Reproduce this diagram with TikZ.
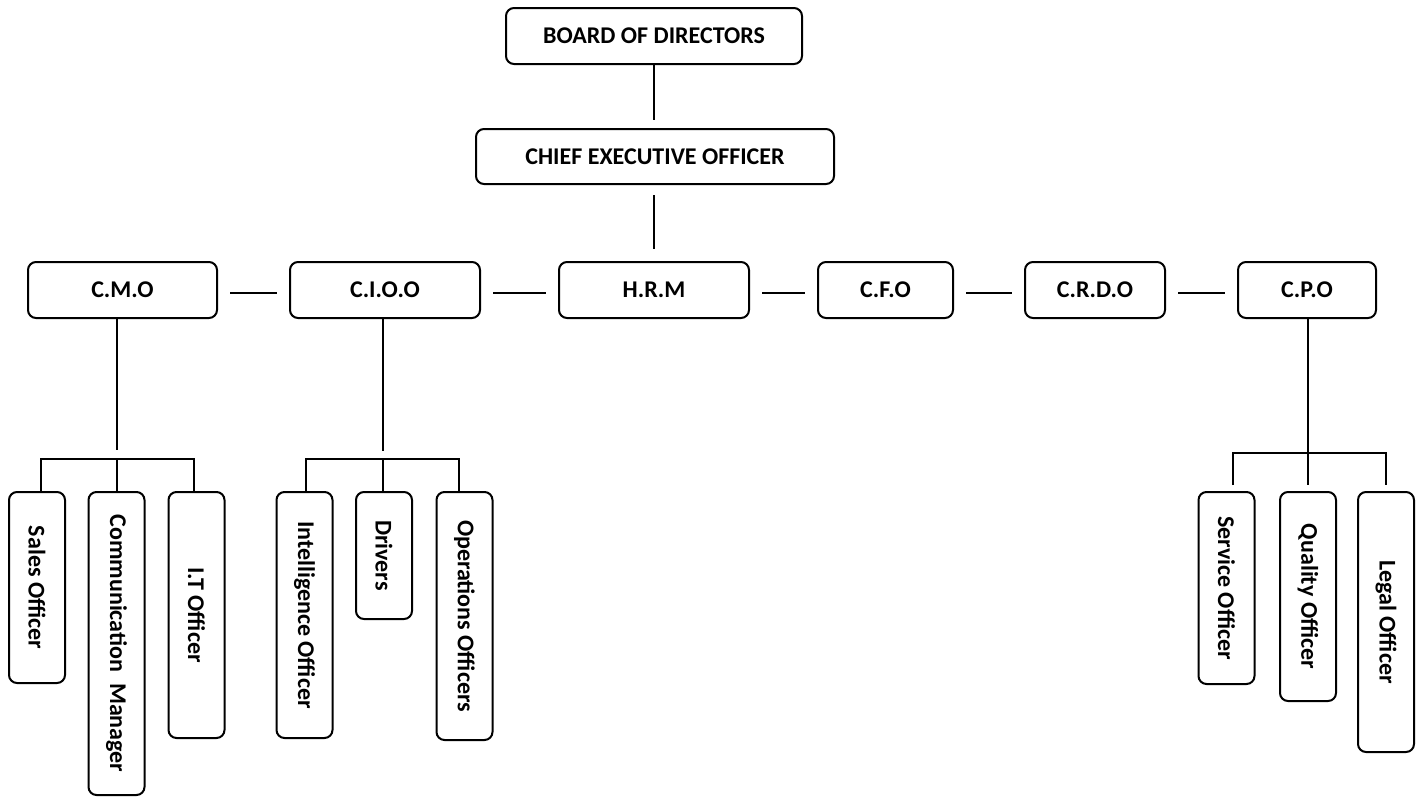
\documentclass[tikz,border=0pt]{standalone}
\usepackage{fontspec}
\setmainfont{Carlito}
\tikzset{
    post/.style={draw, line width=2pt, rounded corners=8pt, align=center, inner sep=2pt,
        font=\fontsize{24}{28}\selectfont\bfseries, minimum height=56pt},
    staff/.style={post, rotate=-90, minimum height=56pt, minimum width=#1},
    link/.style={line width=2pt},
}
\begin{document}
\begin{tikzpicture}[x=1pt, y=-1pt]
        \useasboundingbox (0, 0) rectangle (1421, 796);
        % top of the chart
        \node[post, minimum width=296pt] (bod) at (654, 36) {BOARD OF DIRECTORS};
        \node[post, minimum width=358pt, minimum height=55pt] (ceo) at (655, 156.5) {CHIEF EXECUTIVE OFFICER};
        \draw[link] (bod.south) -- ([yshift=8pt]ceo.north -| bod.south);
        % chiefs
        \node[post, minimum width=189pt] (cmo) at (122.5, 290) {C.M.O};
        \node[post, minimum width=190pt] (cioo) at (385, 290) {C.I.O.O};
        \node[post, minimum width=190pt] (hrm) at (654, 290) {H.R.M};
        \node[post, minimum width=135pt] (cfo) at (885.5, 290) {C.F.O};
        \node[post, minimum width=140pt] (crdo) at (1095, 290) {C.R.D.O};
        \node[post, minimum width=138pt] (cpo) at (1307, 290) {C.P.O};
        \draw[link] ([yshift=-10pt]ceo.south -| hrm.north) -- ([yshift=12pt]hrm.north);
        \foreach \a/\b in {cmo/cioo, cioo/hrm, hrm/cfo, cfo/crdo, crdo/cpo}
            \draw[link] ([xshift=12pt, yshift=-3pt]\a.east) -- ([xshift=-12pt, yshift=-3pt]\b.west);
        % staff under C.M.O
        \node[staff=191pt] (sales) at (37, 587.5) {Sales Officer};
        \node[staff=303pt] (comm) at (116.5, 643.5) {Communication\ \ Manager};
        \node[staff=246pt] (itoff) at (196.5, 615) {I.T Officer};
        \coordinate (cmobus) at (116.5, 459);
        \draw[link] (cmo.south -| cmobus) -- ([yshift=9pt]cmobus);
        \draw[link] ([xshift=4pt]sales.west) |- (cmobus) -| ([xshift=-3pt]itoff.west);
        \draw[link] (cmobus) -- (comm.west);
        % staff under C.I.O.O
        \node[staff=246pt] (intel) at (304.5, 615) {Intelligence Officer};
        \node[staff=127pt] (drivers) at (384, 555.5) {Drivers};
        \node[staff=248pt] (ops) at (464.5, 616) {Operations Officers};
        \coordinate (cioobus) at (383, 459);
        \draw[link] (cioo.south -| cioobus) -- ([yshift=8pt]cioobus);
        \draw[link] ([xshift=1pt]intel.west) |- (cioobus) -| ([xshift=-6pt]ops.west);
        \draw[link] (cioobus) -- (drivers.west -| cioobus);
        % staff under C.P.O
        \node[staff=192pt] (service) at (1226.5, 588) {Service Officer};
        \node[staff=209pt] (quality) at (1308, 596.5) {Quality Officer};
        \node[staff=260pt] (legal) at (1386, 622) {Legal Officer};
        \coordinate (cpobus) at (1308, 453);
        \draw[link] (cpo.south -| cpobus) -- ([yshift=6pt]quality.west);
        \draw[link] ([xshift=6pt, yshift=6pt]service.west) |- (cpobus) -| ([yshift=6pt]legal.west);
    \end{tikzpicture}
\end{document}
